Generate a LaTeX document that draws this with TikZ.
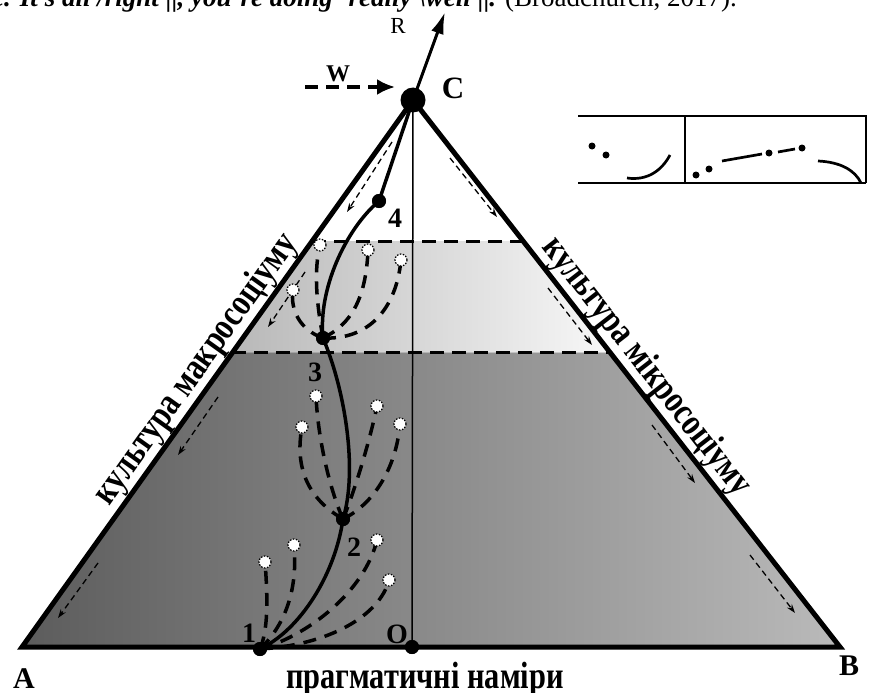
\documentclass[tikz,border=0pt]{standalone}
\usepackage{fontspec}
\setmainfont{Liberation Serif}
\newfontfamily\condfont[FakeStretch=0.8]{Liberation Serif}
\usetikzlibrary{arrows.meta,calc}
\definecolor{bandL}{HTML}{B8B8B8}
\definecolor{bandR}{HTML}{F8F8F8}
\definecolor{lowL}{HTML}{5C5C5C}
\definecolor{lowR}{HTML}{BABABA}
\begin{document}
\begin{tikzpicture}[x=1pt,y=-1pt,
  edgeline/.style={line width=5pt,line join=miter},
  bandline/.style={line width=3pt,dash pattern=on 14pt off 8pt},
  thinarrow/.style={line width=1.3pt,dash pattern=on 6pt off 4pt,-{Stealth[length=9pt,width=6pt]}},
  mainpath/.style={line width=3.5pt},
  dcurve/.style={line width=3.5pt,dash pattern=on 13pt off 9pt},
  bdot/.style={circle,fill=black,inner sep=0pt,minimum size=14pt},
  bigdot/.style={circle,fill=black,inner sep=0pt,minimum size=25pt},
  wdot/.style={circle,fill=white,draw=black,line width=1.2pt,dash pattern=on 1.6pt off 1.4pt,inner sep=0pt,minimum size=12pt},
  numlbl/.style={font=\bfseries\fontsize{28}{28}\selectfont,inner sep=0pt},
  sidelbl/.style={font=\condfont\bfseries\fontsize{38}{38}\selectfont,inner sep=2pt},
  legline/.style={line width=1.5pt},
  legmark/.style={line width=2.7pt},
  legdot/.style={circle,fill=black,inner sep=0pt,minimum size=7pt}
]
\useasboundingbox (0,0) rectangle (873,693);
% main geometry
\coordinate (C) at (413,100);
\coordinate (A) at (22,647);
\coordinate (B) at (840,647);
\coordinate (L1) at ($(C)!0.2578!(A)$);
\coordinate (R1) at ($(C)!0.2578!(B)$);
\coordinate (L2) at ($(C)!0.4625!(A)$);
\coordinate (R2) at ($(C)!0.4625!(B)$);
% fills
\fill[left color=bandL,right color=bandR] (L1) -- (R1) -- (R2) -- (L2) -- cycle;
\fill[left color=lowL,right color=lowR] (L2) -- (R2) -- (B) -- (A) -- cycle;
% vertical axis
\node[bdot] (O) at (412,647) {};
\draw[line width=1.5pt] (C) -- (O.center);
% dashed level lines
\draw[bandline] (L1) -- (R1);
\draw[bandline] (L2) -- (R2);
% thin dashed arrows
\coordinate (ta1) at (392,142); \coordinate (tb1) at (347,212);
\coordinate (ta2) at (305,272); \coordinate (tb2) at (268,327);
\coordinate (ta3) at (218,397); \coordinate (tb3) at (178,455);
\coordinate (ta4) at (98,563);  \coordinate (tb4) at (58,618);
\coordinate (ta5) at (450,158); \coordinate (tb5) at (497,217);
\coordinate (ta6) at (548,288); \coordinate (tb6) at (592,345);
\coordinate (ta7) at (652,425); \coordinate (tb7) at (695,483);
\coordinate (ta8) at (750,555); \coordinate (tb8) at (795,613);
\foreach \i in {1,...,8} {\draw[thinarrow] (ta\i) -- (tb\i);}
% points on main path
\node[bdot] (P4) at (379,201) {};
\node[bdot] (P3) at (323,338) {};
\node[bdot] (P2) at (343,519) {};
\node[bdot] (P1) at (260,649) {};
% white dot positions
\coordinate (u1) at (320,245);
\coordinate (u2) at (293,290);
\coordinate (u3) at (368,250);
\coordinate (u4) at (401,260);
\coordinate (m1) at (316,396);
\coordinate (m2) at (302,427);
\coordinate (m3) at (377,406);
\coordinate (m4) at (400,424);
\coordinate (l1) at (265,562);
\coordinate (l2) at (294,545);
\coordinate (l3) at (377,540);
\coordinate (l4) at (389,580);
% dashed curves
\draw[dcurve] (P3.center) .. controls (316,300) and (314,270) .. (u1);
\draw[dcurve] (P3.center) .. controls (300,330) and (290,310) .. (u2);
\draw[dcurve] (P3.center) .. controls (350,325) and (366,300) .. (u3);
\draw[dcurve] (P3.center) .. controls (368,340) and (396,310) .. (u4);
\draw[dcurve] (P2.center) .. controls (330,490) and (318,440) .. (m1);
\draw[dcurve] (P2.center) .. controls (310,500) and (294,470) .. (m2);
\draw[dcurve] (P2.center) .. controls (355,490) and (370,440) .. (m3);
\draw[dcurve] (P2.center) .. controls (372,505) and (396,470) .. (m4);
\draw[dcurve] (P1.center) .. controls (268,630) and (268,600) .. (l1);
\draw[dcurve] (P1.center) .. controls (285,625) and (298,590) .. (l2);
\draw[dcurve] (P1.center) .. controls (310,635) and (365,590) .. (l3);
\draw[dcurve] (P1.center) .. controls (330,645) and (380,615) .. (l4);
% white dots on top
\foreach \d in {u1,u2,u3,u4,m1,m2,m3,m4,l1,l2,l3,l4}
  {\node[wdot] (w\d) at (\d) {};}
% main solid path
\draw[mainpath] (C) -- (P4.center)
  .. controls (345,230) and (318,290) .. (P3.center)
  .. controls (345,390) and (358,470) .. (P2.center)
  .. controls (335,575) and (300,630) .. (P1.center);
% triangle
\draw[edgeline] (A) -- (C) -- (B) -- cycle;
\node[bdot] at (P4) {};
\node[bdot] at (P3) {};
\node[bdot] at (P2) {};
\node[bdot] at (P1) {};
\node[bdot] at (O) {};
% R and W arrows
\coordinate (Rtip) at (445,12);
\draw[line width=3pt,-{Latex[length=22pt,width=13pt]}] (C) -- (Rtip);
\node[font=\fontsize{23}{23}\selectfont,inner sep=0pt] (Rl) at (398,26) {R};
\coordinate (Wstart) at (305,87);
\coordinate (Wend) at (395,87);
\draw[line width=3.3pt,dash pattern=on 13pt off 8pt,-{Latex[length=18pt,width=16pt]}] (Wstart) -- (Wend);
\node[font=\bfseries\fontsize{24}{24}\selectfont,inner sep=0pt] (Wl) at (338,74) {W};
\node[bigdot] (Cdot) at (C) {};
% labels
\node[font=\bfseries\fontsize{31}{31}\selectfont,inner sep=0pt] (Cl) at (453,88) {C};
\node[numlbl] (n4) at (395,218) {4};
\node[numlbl] (n3) at (315,372) {3};
\node[numlbl] (n2) at (354,547) {2};
\node[numlbl] (n1) at (249,633) {1};
\node[numlbl] (nO) at (397,634) {O};
\node[font=\bfseries\fontsize{30}{30}\selectfont,inner sep=0pt] (Al) at (24,679) {A};
\node[font=\bfseries\fontsize{30}{30}\selectfont,inner sep=0pt] (Bl) at (849,666) {B};
\node[font=\condfont\bfseries\fontsize{38}{38}\selectfont,inner sep=0pt,anchor=base] (bottom) at (425,688) {прагматичні наміри};
\node[sidelbl,rotate=54.4,anchor=south] (leftlbl) at ($(C)!0.513!(A)$) {культура макросоціуму};
\node[sidelbl,rotate=-52,anchor=south] (rightlbl) at ($(C)!0.51!(B)$) {культура мікросоціуму};
% top clipped quotation
\node[anchor=base west,inner sep=0pt,font=\fontsize{27}{27}\selectfont] (quote) at (-8,7)
  {\textbf{\textit{e. It's all /right ||, you're doing 'really \textbackslash well ||.}} (Broadchurch, 2017).};
% legend box
\coordinate (g1) at (578,116); \coordinate (g2) at (866,116);
\coordinate (g3) at (578,183); \coordinate (g4) at (866,183);
\coordinate (g5) at (685,116); \coordinate (g6) at (685,183);
\draw[legline] (g1) -- (g2) -- (g4);
\draw[legline] (g3) -- (g4);
\draw[legline] (g5) -- (g6);
\node[legdot] (k1) at (592,146) {};
\node[legdot] (k2) at (606,155) {};
\coordinate (k3) at (627,178); \coordinate (k4) at (670,155);
\draw[legmark] (k3) .. controls (648,181) and (662,170) .. (k4);
\node[legdot] (k5) at (696,175) {};
\node[legdot] (k6) at (709,169) {};
\coordinate (k7) at (722,161); \coordinate (k8) at (762,154);
\draw[legmark] (k7) -- (k8);
\node[legdot] (k9) at (769,153) {};
\coordinate (k10) at (778,152); \coordinate (k11) at (795,149);
\draw[legmark] (k10) -- (k11);
\node[legdot] (k12) at (802,148) {};
\coordinate (k13) at (818,161); \coordinate (k14) at (861,183);
\draw[legmark] (k13) .. controls (840,162) and (855,170) .. (k14);
\end{tikzpicture}
\end{document}
